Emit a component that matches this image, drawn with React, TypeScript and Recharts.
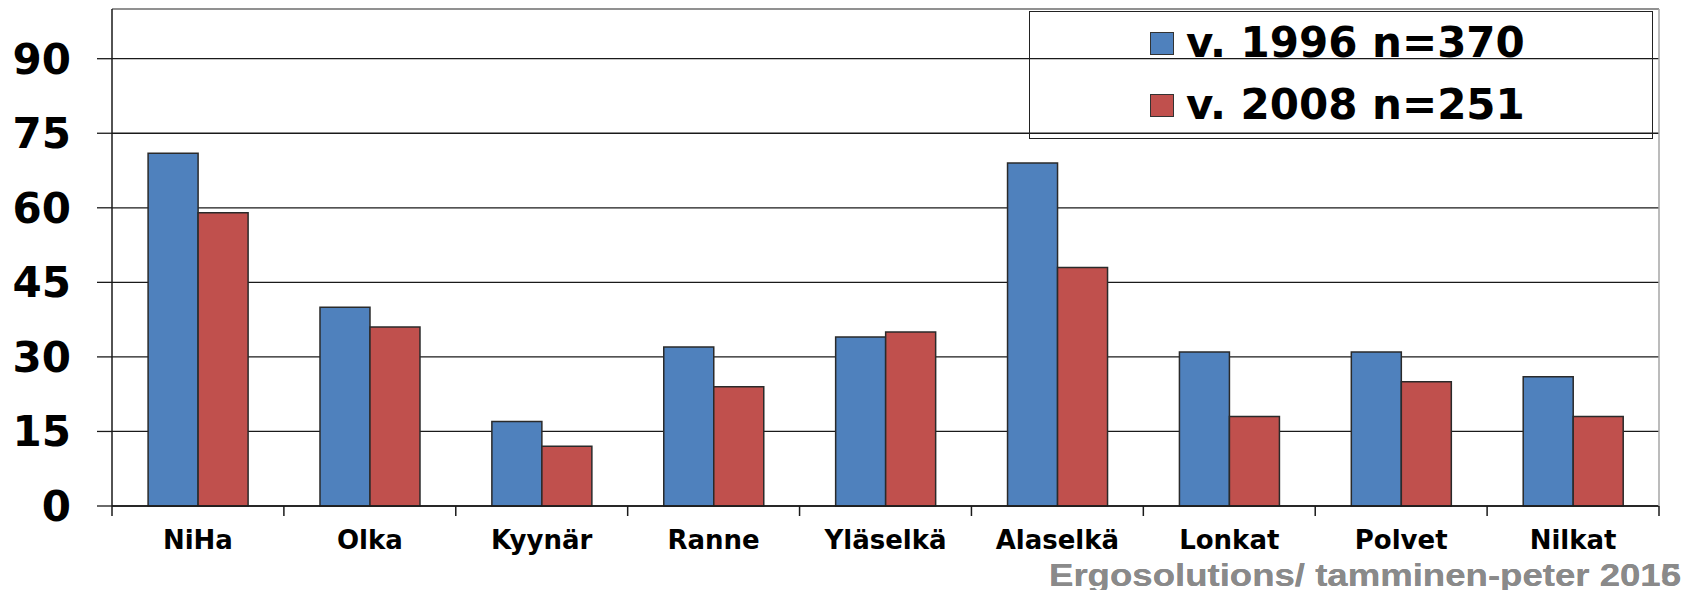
import React from 'react';
import { BarChart, Bar, XAxis, YAxis, CartesianGrid, Legend, ReferenceLine } from 'recharts';

const categories = ['NiHa', 'Olka', 'Kyynär', 'Ranne', 'Yläselkä', 'Alaselkä', 'Lonkat', 'Polvet', 'Nilkat'];
const values1996 = [71, 40, 17, 32, 34, 69, 31, 31, 26];
const values2008 = [59, 36, 12, 24, 35, 48, 18, 25, 18];
const seriesNames = ['v. 1996 n=370', 'v. 2008 n=251'];
const yTicks = [0, 15, 30, 45, 60, 75, 90];
const watermarkTexts = ['Ergosolutions/ tamminen-peter 2015', 'Ergosolutions/ tamminen-peter 2016'];

const data = categories.map((c, i) => ({ name: c, a: values1996[i], b: values2008[i] }));

const BLUE = '#4F81BD';
const RED = '#C0504D';
const LINE = '#1a1a1a';

const CategoryTick = (props: any) => {
  const { x, y, payload, index, visibleTicksCount } = props;
  const half = payload && payload.offset ? payload.offset : 0;
  const isLast = index === (visibleTicksCount ?? categories.length) - 1;
  return (
    <g>
      <line x1={x - half} x2={x - half} y1={y} y2={y + 10} stroke={LINE} strokeWidth={1.5} />
      {isLast && <line x1={x + half} x2={x + half} y1={y} y2={y + 10} stroke={LINE} strokeWidth={1.5} />}
      <text
        x={x}
        y={y + 25}
        dy="0.71em"
        textAnchor="middle"
        fontFamily="DejaVu Sans"
        fontWeight="bold"
        fontSize={26}
        fill="#000"
      >
        {payload.value}
      </text>
    </g>
  );
};

const LegendContent = (props: any) => {
  const payload = props.payload || [];
  return (
    <div
      style={{
        width: '100%',
        height: '100%',
        boxSizing: 'border-box',
        border: '1.5px solid #222',
        paddingLeft: 120,
        paddingTop: 5,
      }}
    >
      {payload.map((p: any, i: number) => (
        <div
          key={i}
          style={{
            display: 'flex',
            alignItems: 'center',
            height: 52,
            marginBottom: 10,
          }}
        >
          <div
            style={{
              width: 24,
              height: 23,
              boxSizing: 'border-box',
              background: p.color,
              border: '1.5px solid #333',
              marginRight: 12,
            }}
          />
          <span
            style={{
              fontFamily: 'DejaVu Sans',
              fontWeight: 'bold',
              fontSize: 42,
              lineHeight: '52px',
              color: '#000',
              whiteSpace: 'nowrap',
            }}
          >
            {p.value}
          </span>
        </div>
      ))}
    </div>
  );
};

export default function App() {
  return (
    <div style={{ position: 'absolute', left: 0, top: 0, width: 1686, height: 590, background: '#fff' }}>
      <BarChart
        width={1686}
        height={590}
        data={data}
        margin={{ top: 9, right: 0, bottom: 0, left: 0 }}
        barCategoryGap="21%"
        barGap={0}
      >
        <CartesianGrid horizontal vertical={false} stroke={LINE} strokeWidth={1.3} strokeDasharray="" />
        <XAxis
          dataKey="name"
          interval={0}
          height={84}
          axisLine={{ stroke: LINE, strokeWidth: 1.5 }}
          tickLine={false}
          tickSize={0}
          tickMargin={0}
          tick={<CategoryTick />}
        />
        <YAxis
          domain={[0, 100]}
          ticks={yTicks}
          width={112}
          tickSize={15}
          tickMargin={26}
          interval={0}
          axisLine={{ stroke: LINE, strokeWidth: 1.5 }}
          tickLine={{ stroke: LINE, strokeWidth: 1.3 }}
          tick={{ fontFamily: 'DejaVu Sans', fontWeight: 'bold', fontSize: 42, fill: '#000' }}
        />
        <YAxis
          yAxisId="right"
          orientation="right"
          domain={[0, 100]}
          width={27}
          tick={false}
          tickLine={false}
          axisLine={{ stroke: '#a6a6a6', strokeWidth: 1.5 }}
        />
        <ReferenceLine y={100} stroke="#a6a6a6" strokeWidth={1.5} />
        <Legend
          layout="vertical"
          align="center"
          verticalAlign="middle"
          content={<LegendContent />}
          wrapperStyle={{ left: 1029, top: 11, width: 624, height: 128, position: 'absolute' }}
        />
        <Bar dataKey="a" name={seriesNames[0]} fill={BLUE} stroke="#2a2a2a" strokeWidth={1.5} isAnimationActive={false} />
        <Bar dataKey="b" name={seriesNames[1]} fill={RED} stroke="#2a2a2a" strokeWidth={1.5} isAnimationActive={false} />
      </BarChart>
      <svg
        width={1686}
        height={590}
        style={{ position: 'absolute', left: 0, top: 0, pointerEvents: 'none' }}
      >
        {watermarkTexts.map((t, i) => (
          <text
            key={i}
            x={1049}
            y={586}
            fontFamily="Liberation Sans"
            fontWeight="bold"
            fontSize={31}
            fill="#8a8a8a"
            textLength={632}
            lengthAdjust="spacingAndGlyphs"
          >
            {t}
          </text>
        ))}
      </svg>
    </div>
  );
}
